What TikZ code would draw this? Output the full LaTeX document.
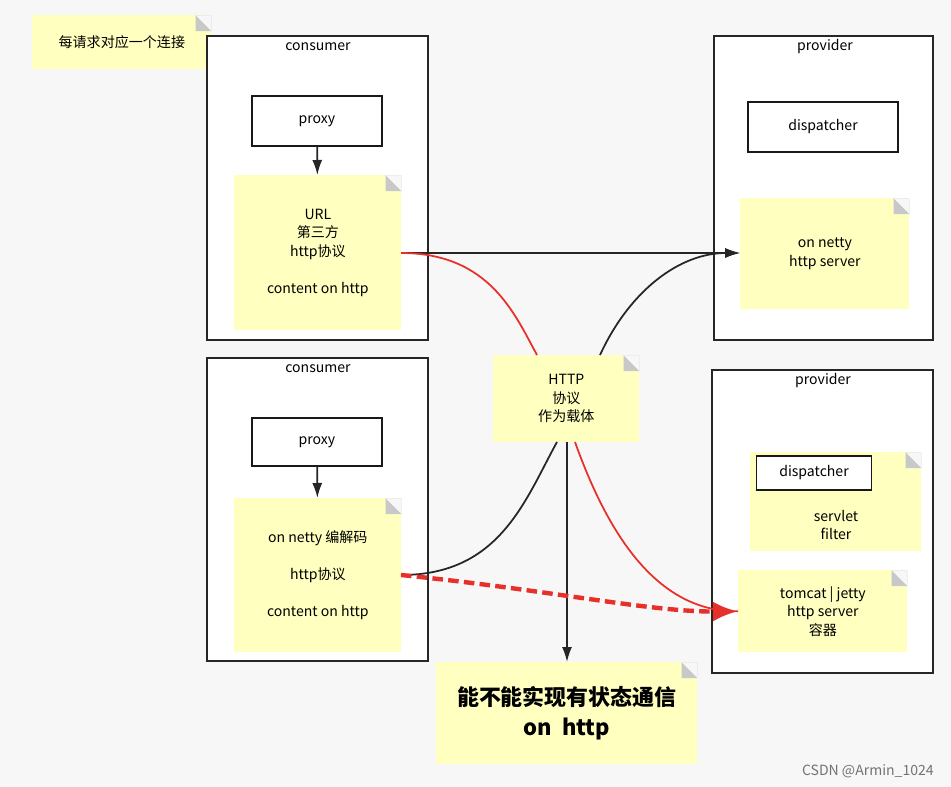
\documentclass[tikz,border=0pt]{standalone}
\usepackage{fontspec}
\setmainfont{Noto Sans CJK SC}
\usetikzlibrary{arrows.meta}
\definecolor{notey}{HTML}{FFFFC0}
\definecolor{foldg}{HTML}{C8C8C8}
\definecolor{bgg}{HTML}{F7F7F7}
\definecolor{arred}{HTML}{E8302A}
\tikzset{>=stealth,
  box/.style={draw=black!85, line width=1pt, fill=white},
  inner/.style={draw=black!90, line width=1pt, fill=white, font=\fontsize{8}{10}\selectfont},
  note/.style={fill=notey, draw=none, align=center, font=\fontsize{8}{10.5}\selectfont,
    path picture={\fill[foldg] ([xshift=-9pt]path picture bounding box.north east) --
      (path picture bounding box.north east) -- ([yshift=-9pt]path picture bounding box.north east) -- cycle;
      \fill[bgg] ([xshift=-9pt]path picture bounding box.north east) -- (path picture bounding box.north east) -- ([yshift=-9pt]path picture bounding box.north east) -- cycle;
      \fill[foldg] ([xshift=-9pt]path picture bounding box.north east) -- ([xshift=-9pt,yshift=-9pt]path picture bounding box.north east) -- ([yshift=-9pt]path picture bounding box.north east) -- cycle;}},
  lbl/.style={font=\fontsize{8}{10}\selectfont},
  blk/.style={-{Latex[length=3mm,width=2mm]}, line width=1pt, black!85},
}
\begin{document}
\begin{tikzpicture}[x=0.02cm,y=-0.02cm]
  \fill[bgg] (0,0) rectangle (951,787);
  \useasboundingbox (0,0) rectangle (951,787);
  % tip
  \node[note, minimum width=179*0.02cm, minimum height=54*0.02cm, anchor=north west] (tip) at (32,15) {每请求对应一个连接};
  % consumer 1
  \draw[box] (207,36) rectangle (428,340);
  \node[lbl] (c1) at (318,47) {consumer};
  \node[inner, minimum width=130*0.02cm, minimum height=50*0.02cm] (proxy1) at (317,121) {proxy};
  \node[note, minimum width=167*0.02cm, minimum height=155*0.02cm, anchor=north west] (url) at (234,175) {URL\\第三方\\http协议\\[10.5pt]content on http};
  \draw[blk] (proxy1) -- (url);
  % provider 1
  \draw[box] (714,36) rectangle (933,340);
  \node[lbl] (p1) at (825,47) {provider};
  \node[inner, minimum width=150*0.02cm, minimum height=50*0.02cm] (disp1) at (823,127) {dispatcher};
  \node[note, minimum width=169*0.02cm, minimum height=111*0.02cm, anchor=north west] (netty) at (740,198) {on netty\\http server};
  % consumer 2
  \draw[box] (207,358) rectangle (428,661);
  \node[lbl] (c2) at (318,369) {consumer};
  \node[inner, minimum width=130*0.02cm, minimum height=48*0.02cm] (proxy2) at (317,442) {proxy};
  \node[note, minimum width=167*0.02cm, minimum height=154*0.02cm, anchor=north west] (codec) at (234,498) {on netty 编解码\\[10.5pt]http协议\\[10.5pt]content on http};
  \draw[blk] (proxy2) -- (codec);
  % provider 2
  \draw[box] (712,370) rectangle (933,673);
  \node[lbl] (p2) at (823,381) {provider};
  \node[note, minimum width=171*0.02cm, minimum height=99*0.02cm, anchor=north west] (servlet) at (750,452) {};
  \node[inner, minimum width=115*0.02cm, minimum height=34*0.02cm] (disp2) at (814,473) {dispatcher};
  \node[lbl, align=center] (sf) at (836,525) {servlet\\filter};
  \node[note, minimum width=169*0.02cm, minimum height=82*0.02cm, anchor=north west] (tomcat) at (738,570) {tomcat | jetty\\http server\\容器};
  % carrier
  \node[note, minimum width=146*0.02cm, minimum height=87*0.02cm, anchor=north west] (http) at (493,355) {HTTP\\协议\\作为载体};
  \node[note, minimum width=261*0.02cm, minimum height=102*0.02cm, anchor=north west, font=\fontsize{12.5}{17}\selectfont\bfseries] (ask) at (436,662) {能不能实现有状态通信\\on\ \ http};
  \coordinate (hr) at (537,355);
  \coordinate (hb) at (600,355);
  \coordinate (hrb) at (575,442);
  \coordinate (hbb) at (557,442);
  \coordinate (hv) at (567,442);
  \coordinate (urlr) at (401,253);
  \coordinate (codr) at (401,575);
  % connectors
  \draw[blk] (urlr) -- (netty.west |- urlr);
  \draw[arred, line width=1pt] (urlr) .. controls (490,253) and (515,315) .. (hr);
  \draw[arred, line width=1pt] (hrb) .. controls (610,540) and (660,612) .. (tomcat.west);
  \draw[black!85, line width=1pt] (codr) .. controls (500,575) and (525,500) .. (hbb);
  \draw[blk] (hb) .. controls (630,290) and (680,253) .. (netty.west |- urlr);
  \draw[blk] (hv) -- (hv |- ask.north);
  \draw[arred, line width=2.5pt, dash pattern=on 6pt off 3pt, -{Latex[length=5mm,width=4mm]}] (codr) .. controls (550,590) and (650,612) .. (tomcat.west);
  \node[font=\fontsize{8}{10}\selectfont, text=black!55, anchor=east] (mark) at (940,771) {CSDN @Armin\_1024};
\end{tikzpicture}
\end{document}
